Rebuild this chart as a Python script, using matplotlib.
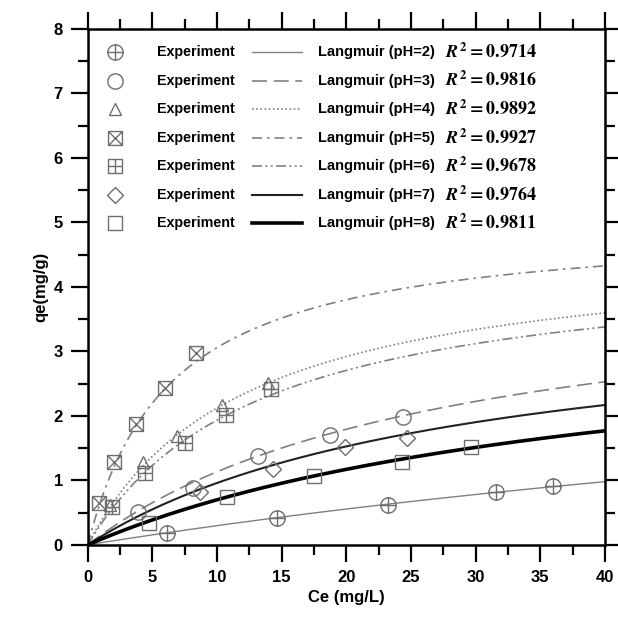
import numpy as np
import matplotlib
matplotlib.use("Agg")
import matplotlib.pyplot as plt
from matplotlib.path import Path
from matplotlib.ticker import MultipleLocator

plt.rcParams["font.family"] = ["Liberation Sans", "DejaVu Sans"]
plt.rcParams["font.weight"] = "bold"
plt.rcParams["mathtext.fontset"] = "stix"

ph_values = [2, 3, 4, 5, 6, 7, 8]
ce_ph2 = [6.1, 14.6, 23.2, 31.6, 36.0]
qe_ph2 = [0.19, 0.42, 0.62, 0.82, 0.91]
ce_ph3 = [3.9, 8.1, 13.2, 18.7, 24.4]
qe_ph3 = [0.51, 0.88, 1.38, 1.70, 1.98]
ce_ph4 = [1.7, 4.3, 6.9, 10.4, 13.9]
qe_ph4 = [0.62, 1.29, 1.68, 2.17, 2.51]
ce_ph5 = [0.9, 2.0, 3.7, 6.0, 8.4]
qe_ph5 = [0.65, 1.28, 1.87, 2.43, 2.98]
ce_ph6 = [1.9, 4.4, 7.5, 10.7, 14.2]
qe_ph6 = [0.59, 1.11, 1.58, 2.01, 2.42]
ce_ph7 = [8.7, 14.3, 19.9, 24.7]
qe_ph7 = [0.82, 1.17, 1.52, 1.65]
ce_ph8 = [4.7, 10.8, 17.5, 24.3, 29.6]
qe_ph8 = [0.34, 0.74, 1.06, 1.28, 1.52]

# ---- Langmuir fit parameters (qm mg/g, KL L/mg), estimated from the curves ----
qm = [4.16, 4.29, 4.68, 5.02, 4.50, 3.74, 3.61]
kl = [0.0077, 0.0359, 0.083, 0.156, 0.0754, 0.0345, 0.024]
r2 = ["0.9714", "0.9816", "0.9892", "0.9927", "0.9678", "0.9764", "0.9811"]

ce_pts = [ce_ph2, ce_ph3, ce_ph4, ce_ph5, ce_ph6, ce_ph7, ce_ph8]
qe_pts = [qe_ph2, qe_ph3, qe_ph4, qe_ph5, qe_ph6, qe_ph7, qe_ph8]


def seg(p0, p1):
    return Path([p0, p1], [Path.MOVETO, Path.LINETO])


square = Path([(-1, -1), (1, -1), (1, 1), (-1, 1), (-1, -1)],
              [Path.MOVETO, Path.LINETO, Path.LINETO, Path.LINETO, Path.CLOSEPOLY])
circle_plus = Path.make_compound_path(Path.unit_circle(), seg((-1, 0), (1, 0)), seg((0, -1), (0, 1)))
square_x = Path.make_compound_path(square, seg((-1, -1), (1, 1)), seg((-1, 1), (1, -1)))
square_plus = Path.make_compound_path(square, seg((-1, 0), (1, 0)), seg((0, -1), (0, 1)))

markers = [circle_plus, "o", "^", square_x, square_plus, "D", "s"]
msizes = [11, 11, 9, 10, 10, 8.5, 10.5]
mcol = "#6e6e6e"
line_styles = [
    dict(color="#808080", lw=1.0, ls="-"),
    dict(color="#808080", lw=1.2, ls=(0, (9, 4))),
    dict(color="#808080", lw=1.2, ls=(0, (1, 1.5))),
    dict(color="#808080", lw=1.2, ls=(0, (6, 3, 1.5, 3))),
    dict(color="#808080", lw=1.2, ls=(0, (6, 2, 1.2, 2, 1.2, 2))),
    dict(color="#222222", lw=1.5, ls="-"),
    dict(color="#000000", lw=2.6, ls="-"),
]

fig = plt.figure(figsize=(6.18, 6.17), dpi=100)
ax = fig.add_axes([0.142, 0.117, 0.837, 0.836])

ce_fit = np.linspace(0, 40, 300)
for i, ph in enumerate(ph_values):
    q_fit = qm[i] * kl[i] * ce_fit / (1 + kl[i] * ce_fit)
    ax.plot(ce_fit, q_fit, **line_styles[i], zorder=2)
    ax.plot(ce_pts[i], qe_pts[i], ls="none", marker=markers[i], ms=msizes[i],
            mfc="none", mec=mcol, mew=1.0, zorder=3)

# ---- hand-built legend block (axes fraction) ----
row_y = 0.955
row_step = 0.0553
for i, ph in enumerate(ph_values):
    y = row_y - i * row_step
    ax.plot([0.052], [y], transform=ax.transAxes, ls="none", marker=markers[i],
            ms=msizes[i], mfc="none", mec=mcol, mew=1.0, clip_on=False)
    ax.text(0.133, y, "Experiment", transform=ax.transAxes, fontsize=10.3,
            fontweight="bold", va="center", ha="left")
    ax.plot([0.317, 0.414], [y, y], transform=ax.transAxes, **line_styles[i])
    ax.text(0.445, y, f"Langmuir (pH={ph})", transform=ax.transAxes, fontsize=10.5,
            fontweight="bold", va="center", ha="left")
    ax.text(0.690, y, f"$R^2 = \\mathbf{{{r2[i]}}}$", transform=ax.transAxes,
            fontsize=13, va="center", ha="left")

ax.set_xlim(0, 40)
ax.set_ylim(0, 8)
ax.xaxis.set_major_locator(MultipleLocator(5))
ax.xaxis.set_minor_locator(MultipleLocator(2.5))
ax.yaxis.set_major_locator(MultipleLocator(1))
ax.yaxis.set_minor_locator(MultipleLocator(0.5))
ax.tick_params(which="both", direction="out", top=True, right=True, width=1.6)
ax.tick_params(which="major", length=12, labelsize=12, pad=6)
ax.tick_params(which="minor", length=7)
for lab in ax.get_xticklabels() + ax.get_yticklabels():
    lab.set_fontweight("bold")
for sp in ax.spines.values():
    sp.set_linewidth(1.8)

ax.set_xlabel("Ce (mg/L)", fontsize=12, fontweight="bold")
ax.set_ylabel("qe(mg/g)", fontsize=12, fontweight="bold")

fig.savefig("out.png", dpi=100)
